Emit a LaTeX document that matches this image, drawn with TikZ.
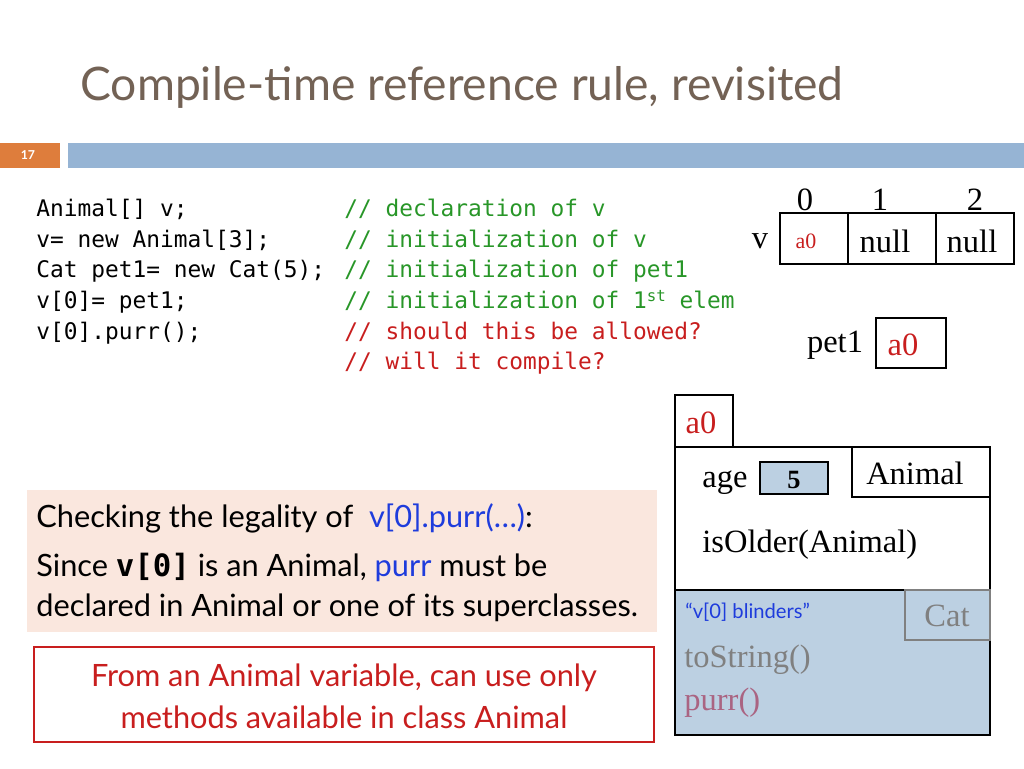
\documentclass[tikz,border=0pt]{standalone}
\usepackage{fontspec}
\setmainfont{Lato}
\newfontfamily\codefont{DejaVu Sans Mono}
\newfontfamily\timesfont{Liberation Serif}
\definecolor{titlegray}{RGB}{115,98,85}
\definecolor{barblue}{RGB}{150,180,212}
\definecolor{barorange}{RGB}{222,125,60}
\definecolor{cgreen}{RGB}{40,150,40}
\definecolor{cred}{RGB}{200,30,30}
\definecolor{objblue}{RGB}{188,208,226}
\definecolor{peach}{RGB}{250,231,222}
\definecolor{mauve}{RGB}{170,100,130}
\definecolor{vblue}{RGB}{30,60,220}
\tikzset{
  code/.style={anchor=base west, inner sep=0pt, font=\codefont\fontsize{13}{15}\selectfont},
  tms/.style={font=\timesfont\fontsize{18.5}{21}\selectfont, inner sep=0pt},
  body/.style={anchor=base west, inner sep=0pt, font=\fontsize{17.5}{20}\selectfont},
  cell/.style={draw, line width=0.6pt}
}
\begin{document}
\begin{tikzpicture}[x=0.02cm,y=-0.02cm]
\useasboundingbox (0,0) rectangle (1024,768);

% title and bar
\node[anchor=base west, inner sep=0pt, text=titlegray, font=\fontsize{26.3}{30}\selectfont] (title) at (80,100) {Compile-time reference rule, revisited};
\fill[barorange] (0,143) rectangle (60,168);
\node[text=white, font=\bfseries\fontsize{7}{8}\selectfont] (num) at (28,155) {17};
\fill[barblue] (68,143) rectangle (1024,168);

% code
\foreach \y/\s in {216/{Animal[] v;}, 247/{v= new Animal[3];}, 277/{Cat pet1= new Cat(5);}, 308/{v[0]= pet1;}, 339/{v[0].purr();}}
  \node[code] at (36,\y) {\s};
\node[code, text=cgreen] (c1) at (344,216) {// declaration of v};
\node[code, text=cgreen] (c2) at (344,247) {// initialization of v};
\node[code, text=cgreen] (c3) at (344,277) {// initialization of pet1};
\node[code, text=cgreen] (c4) at (344,308) {// initialization of 1\raisebox{0.5ex}{\fontsize{9}{10}\selectfont st} elem};
\node[code, text=cred] (c5) at (344,339) {// should this be allowed?};
\node[code, text=cred] (c6) at (344,369) {// will it compile?};

% array
\draw[cell] (780,213) rectangle (848,264);
\draw[cell] (848,213) rectangle (936,264);
\draw[cell] (936,213) rectangle (1014,264);
\node[tms] (i0) at (805,200) {0};
\node[tms] (i1) at (880,200) {1};
\node[tms] (i2) at (975,200) {2};
\node[tms] (v) at (760,241) {v};
\node[tms, text=cred, font=\timesfont\fontsize{12.5}{14}\selectfont] (a0v) at (806,241) {a0};
\node[tms] (n1) at (885,241) {null};
\node[tms] (n2) at (972,241) {null};

% pet1
\draw[cell] (876,318) rectangle (946,368);
\node[tms] (pet) at (835,345) {pet1};
\node[tms, text=cred] (a0p) at (903,345) {a0};

% object
\fill[objblue] (675,590) rectangle (990,735);
\draw[cell] (675,395) rectangle (733,447);
\node[tms, text=cred] (tab) at (701,423) {a0};
\draw[cell] (675,447) rectangle (990,735);
\draw[cell] (675,590) -- (990,590);
\draw[cell] (852,447) rectangle (990,497);
\node[tms] (animal) at (915,473) {Animal};
\node[tms] (age) at (725,483) {age};
\draw[cell, fill=objblue] (760,462) rectangle (828,494);
\node[tms, font=\timesfont\bfseries\fontsize{15}{17}\selectfont] (five) at (794,480) {5};
\node[tms, anchor=west] (older) at (702,545) {isOlder(Animal)};
\draw[cell, draw=gray] (905,590) rectangle (990,640);
\node[tms, text=gray] (cat) at (947,616) {Cat};
\node[anchor=west, inner sep=0pt, text=vblue, font=\fontsize{11.5}{13}\selectfont] (blind) at (685,612) {``v[0] blinders''};
\node[tms, anchor=west, text=gray] (tostr) at (684,660) {toString()};
\node[tms, anchor=west, text=mauve] (purr) at (684,703) {purr()};

% checking box
\fill[peach] (27,490) rectangle (657,632);
\node[body] (l1) at (36,527) {Checking the legality of \ \textcolor{vblue}{v[0].purr(\dots)}:};
\node[body] (l2) at (36,576) {Since {\codefont\bfseries v[0]} is an Animal, \textcolor{vblue}{purr} must be};
\node[body] (l3) at (36,616) {declared in Animal or one of its superclasses.};

% note box
\draw[cred, line width=0.6pt] (34,647) rectangle (654,742);
\node[text=cred, align=center, font=\fontsize{17.5}{24}\selectfont] (note) at (344,696) {From an Animal variable, can use only\\methods available in class Animal};
\end{tikzpicture}
\end{document}
